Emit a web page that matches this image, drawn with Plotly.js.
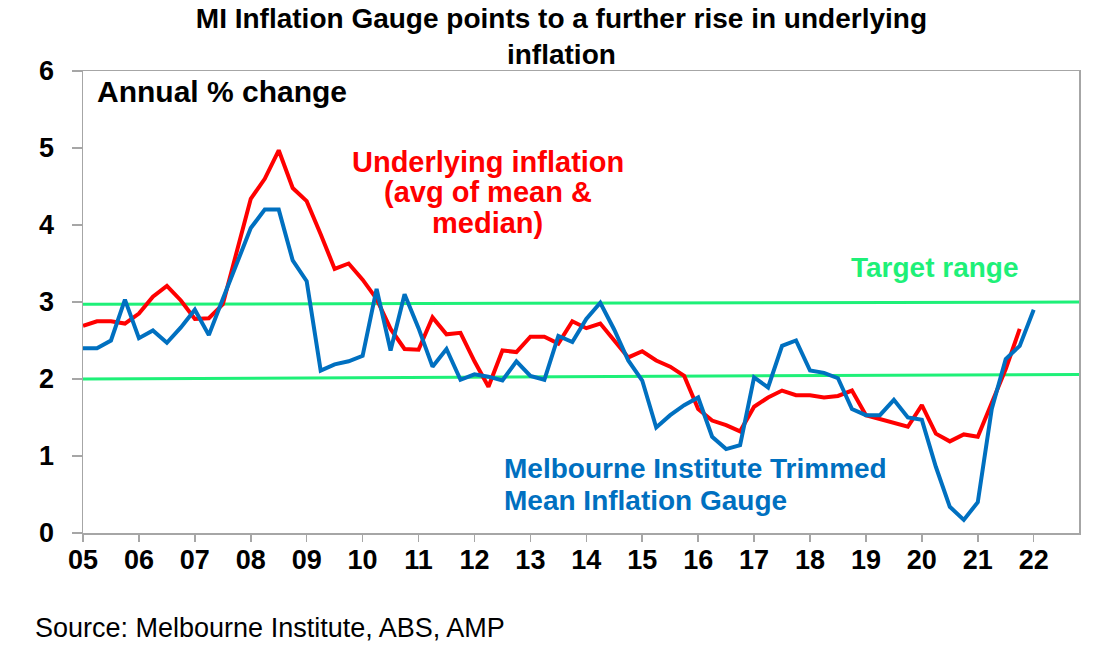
<!DOCTYPE html>
<html>
<head>
<meta charset="utf-8">
<script src="https://cdn.plot.ly/plotly-3.0.1.min.js"></script>
<style>
  html, body { margin: 0; padding: 0; background: #fff; }
  #chart { width: 1103px; height: 652px; }
</style>
</head>
<body>
<div id="chart"></div>
<script>
// quarterly series, first point = 2005 Q1
const startYear = 2005
const yearLabels = ['05','06','07','08','09','10','11','12','13','14','15','16','17','18','19','20','21','22']

// Melbourne Institute trimmed mean inflation gauge, annual % change
const gaugeVals = [
  2.40, 2.40, 2.50, 3.03, 2.53, 2.63, 2.47, 2.67, 2.90, 2.57,
  3.04, 3.49, 3.96, 4.20, 4.20, 3.54, 3.27, 2.11, 2.19, 2.23,
  2.30, 3.17, 2.37, 3.10, 2.66, 2.16, 2.39, 1.99, 2.06, 2.03,
  1.98, 2.23, 2.04, 1.99, 2.56, 2.48, 2.78, 2.99, 2.64, 2.24,
  1.98, 1.37, 1.53, 1.66, 1.76, 1.25, 1.09, 1.14, 2.02, 1.89,
  2.43, 2.50, 2.11, 2.08, 2.01, 1.61, 1.53, 1.53, 1.73, 1.50,
  1.47, 0.86, 0.34, 0.17, 0.40, 1.61, 2.26, 2.43, 2.90
]

// underlying inflation (avg of trimmed mean & weighted median)
const underlyingVals = [
  2.69, 2.75, 2.75, 2.72, 2.85, 3.07, 3.21, 3.02, 2.78, 2.79,
  2.97, 3.68, 4.34, 4.60, 4.97, 4.48, 4.31, 3.88, 3.43, 3.50,
  3.29, 3.04, 2.65, 2.39, 2.38, 2.80, 2.58, 2.60, 2.23, 1.90,
  2.37, 2.35, 2.55, 2.55, 2.46, 2.75, 2.66, 2.72, 2.51, 2.28,
  2.36, 2.24, 2.16, 2.04, 1.61, 1.46, 1.40, 1.32, 1.64, 1.76,
  1.85, 1.79, 1.79, 1.76, 1.78, 1.85, 1.53, 1.48, 1.43, 1.38,
  1.66, 1.29, 1.19, 1.28, 1.25, 1.68, 2.13, 2.65
]

// RBA target band, hand drawn so ends differ a touch
const targetLow = [2.0, 2.06]
const targetHigh = [2.97, 3.0]

const xMax = 2022.81
const qx = n => [...Array(n)].map((_,i)=>startYear + i/4)

const redLines = ['Underlying inflation', '(avg of mean &', 'median)']
const blueLines = ['Melbourne Institute Trimmed', 'Mean Inflation Gauge']

const font = 'Liberation Sans, Arial, sans-serif'
const green = '#1ef078'

let traces = [
  {x:[startYear, xMax], y:targetHigh, mode:'lines', line:{color:green, width:3}, hoverinfo:'skip'},
  {x:[startYear, xMax], y:targetLow, mode:'lines', line:{color:green, width:3}, hoverinfo:'skip'},
  {x:qx(underlyingVals.length), y:underlyingVals, mode:'lines', name:'Underlying inflation',
    line:{color:'#ff0000', width:4}},
  {x:qx(gaugeVals.length), y:gaugeVals, mode:'lines', name:'MI gauge',
    line:{color:'#0070c0', width:4}}
]

let ann = []
ann.push({text:'Annual % change', xref:'paper', yref:'paper', x:0.012, y:0.955,
  xanchor:'left', yanchor:'middle', showarrow:false,
  font:{family:font, size:30, weight:'bold', color:'#000'}})
// line by line so the pitch stays close to the original
const redY = [0.803, 0.738, 0.671]
redLines.forEach((t,i)=>{
  ann.push({text:t, xref:'paper', yref:'paper', x:0.4066, y:redY[i],
    xanchor:'center', yanchor:'middle', showarrow:false,
    font:{family:font, size:29, weight:'bold', color:'#ff0000'}})
})
const blueY = [0.139, 0.071]
blueLines.forEach((t,i)=>{
  ann.push({text:t, xref:'paper', yref:'paper', x:0.4207, y:blueY[i],
    xanchor:'left', yanchor:'middle', showarrow:false,
    font:{family:font, size:28, weight:'bold', color:'#0070c0'}})
})
ann.push({text:'Target range', xref:'paper', yref:'paper', x:0.8554, y:0.5736,
  xanchor:'center', yanchor:'middle', showarrow:false,
  font:{family:font, size:28, weight:'bold', color:green}})
ann.push({text:'Source: Melbourne Institute, ABS, AMP', xref:'paper', yref:'paper',
  x:-0.0502, y:-0.2056, xanchor:'left', yanchor:'middle', showarrow:false,
  font:{family:font, size:27, color:'#000'}})

let layout = {
  width:1103,
  height:652,
  margin:{l:83, r:24, t:71, b:119},
  paper_bgcolor:'#fff',
  plot_bgcolor:'#fff',
  showlegend:false,
  title:{
    text:'MI Inflation Gauge points to a further rise in underlying<br>inflation',
    font:{family:font, size:28, weight:'bold', color:'#000'},
    xref:'container', x:0.509, yref:'container', y:0.957, yanchor:'middle'
  },
  xaxis:{
    range:[startYear, xMax],
    tickvals:yearLabels.map((_,i)=>startYear+i),
    ticktext:yearLabels,
    ticks:'outside', ticklen:7, tickcolor:'#a6a6a6', tickwidth:1.5,
    ticklabelstandoff:-5,
    showline:true, linecolor:'#a6a6a6', linewidth:1.5, mirror:true,
    showgrid:false, zeroline:false,
    tickfont:{family:font, size:27, weight:'bold', color:'#000'}
  },
  yaxis:{
    range:[0, 6],
    dtick:1,
    ticks:'outside', ticklen:10, tickcolor:'#a6a6a6', tickwidth:1.5,
    ticklabelstandoff:12,
    showline:true, linecolor:'#a6a6a6', linewidth:1.5, mirror:true,
    showgrid:false, zeroline:false,
    tickfont:{family:font, size:27, weight:'bold', color:'#000'}
  },
  annotations:ann
}

Plotly.newPlot(document.getElementById('chart'), traces, layout, {displayModeBar:false, staticPlot:true})
</script>
</body>
</html>
